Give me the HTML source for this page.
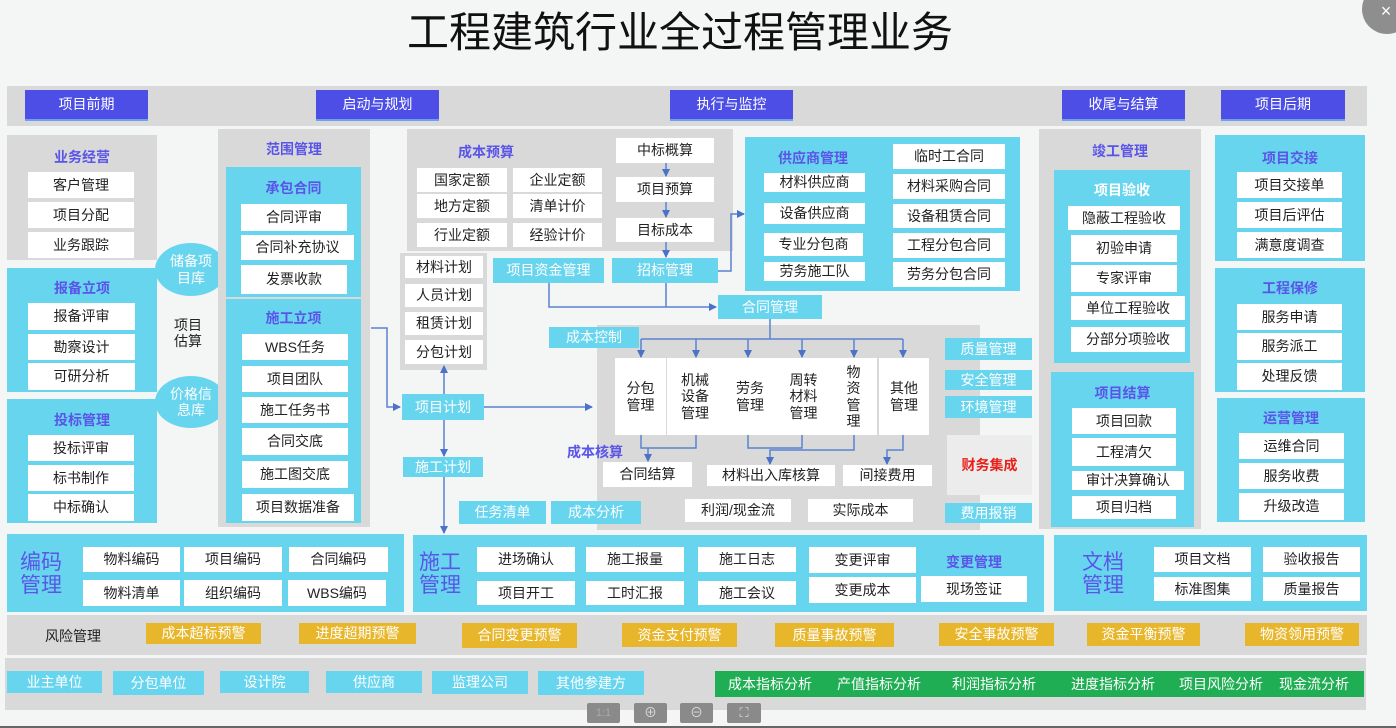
<!DOCTYPE html>
<html><head><meta charset="utf-8">
<style>
*{margin:0;padding:0;box-sizing:border-box}
body{width:1396px;height:728px;overflow:hidden;background:#f4f5f5;font-family:"Liberation Sans","Noto Sans CJK SC",sans-serif;position:relative}
.a{position:absolute;display:flex;align-items:center;justify-content:center;text-align:center;font-size:14px;color:#222;line-height:1.15}
.g{background:#d9d9d9}
.c{background:#68d5ef}
.w{background:#fff}
.t{color:#5a55e8;font-weight:bold;font-size:14px}
.hb{background:#4d4ee6;color:#fff;font-size:14px;border-bottom:2px solid #6fa0f0}
.cl{color:#fff;font-size:14px}
.y{background:#e7b62a;color:#fff;font-size:14px}
.big{color:#5a55e8;font-size:21px;line-height:1.1}
</style></head><body>
<div style="position:absolute;left:1362px;top:-16px;width:50px;height:50px;border-radius:50%;background:#8e8e8e"></div>
<div class="a" style="left:1376px;top:0;width:20px;height:22px;color:#fff;font-size:18px">×</div>
<div class="a" style="left:380px;top:10px;width:600px;height:46px;font-size:42px;color:#111">工程建筑行业全过程管理业务</div>

<div class="a g" style="left:7px;top:86px;width:1360px;height:40px"></div>
<div class="a hb" style="left:25px;top:90px;width:123px;height:31px">项目前期</div>
<div class="a hb" style="left:316px;top:90px;width:123px;height:31px">启动与规划</div>
<div class="a hb" style="left:670px;top:90px;width:123px;height:31px">执行与监控</div>
<div class="a hb" style="left:1062px;top:90px;width:123px;height:31px">收尾与结算</div>
<div class="a hb" style="left:1221px;top:90px;width:124px;height:31px">项目后期</div>

<!-- left column -->
<div class="a g" style="left:7px;top:135px;width:150px;height:125px"></div>
<div class="a t" style="left:7px;top:147px;width:150px;height:20px">业务经营</div>
<div class="a w" style="left:28px;top:172px;width:106px;height:26px">客户管理</div>
<div class="a w" style="left:28px;top:202px;width:106px;height:26px">项目分配</div>
<div class="a w" style="left:28px;top:232px;width:106px;height:26px">业务跟踪</div>

<div class="a c" style="left:7px;top:268px;width:150px;height:124px"></div>
<div class="a t" style="left:7px;top:278px;width:150px;height:20px">报备立项</div>
<div class="a w" style="left:28px;top:303px;width:107px;height:27px">报备评审</div>
<div class="a w" style="left:28px;top:334px;width:107px;height:26px">勘察设计</div>
<div class="a w" style="left:28px;top:363px;width:107px;height:27px">可研分析</div>

<div class="a c" style="left:7px;top:399px;width:150px;height:124px"></div>
<div class="a t" style="left:7px;top:410px;width:150px;height:20px">投标管理</div>
<div class="a w" style="left:28px;top:435px;width:106px;height:26px">投标评审</div>
<div class="a w" style="left:28px;top:465px;width:106px;height:26px">标书制作</div>
<div class="a w" style="left:28px;top:494px;width:106px;height:27px">中标确认</div>

<div class="a c cl" style="left:155px;top:243px;width:72px;height:53px;border-radius:50%">储备项<br>目库</div>
<div class="a c cl" style="left:155px;top:376px;width:72px;height:52px;border-radius:50%">价格信<br>息库</div>
<div class="a" style="left:165px;top:315px;width:46px;height:36px">项目<br>估算</div>

<div class="a g" style="left:218px;top:129px;width:152px;height:398px"></div>
<div class="a t" style="left:218px;top:139px;width:152px;height:20px">范围管理</div>
<div class="a c" style="left:226px;top:167px;width:135px;height:130px"></div>
<div class="a t" style="left:226px;top:178px;width:135px;height:20px">承包合同</div>
<div class="a w" style="left:241px;top:204px;width:106px;height:27px">合同评审</div>
<div class="a w" style="left:241px;top:235px;width:113px;height:25px">合同补充协议</div>
<div class="a w" style="left:241px;top:265px;width:106px;height:29px">发票收款</div>
<div class="a c" style="left:226px;top:299px;width:135px;height:224px"></div>
<div class="a t" style="left:226px;top:308px;width:135px;height:20px">施工立项</div>
<div class="a w" style="left:242px;top:334px;width:106px;height:26px">WBS任务</div>
<div class="a w" style="left:242px;top:366px;width:106px;height:26px">项目团队</div>
<div class="a w" style="left:242px;top:397px;width:106px;height:26px">施工任务书</div>
<div class="a w" style="left:242px;top:428px;width:106px;height:27px">合同交底</div>
<div class="a w" style="left:242px;top:461px;width:106px;height:27px">施工图交底</div>
<div class="a w" style="left:242px;top:494px;width:112px;height:27px">项目数据准备</div>

<!-- middle -->
<div class="a g" style="left:407px;top:129px;width:326px;height:122px"></div>
<div class="a t" style="left:440px;top:142px;width:92px;height:20px">成本预算</div>
<div class="a w" style="left:417px;top:168px;width:90px;height:24px">国家定额</div>
<div class="a w" style="left:513px;top:168px;width:89px;height:24px">企业定额</div>
<div class="a w" style="left:417px;top:194px;width:90px;height:24px">地方定额</div>
<div class="a w" style="left:513px;top:194px;width:89px;height:24px">清单计价</div>
<div class="a w" style="left:417px;top:223px;width:90px;height:24px">行业定额</div>
<div class="a w" style="left:513px;top:223px;width:89px;height:24px">经验计价</div>
<div class="a w" style="left:616px;top:138px;width:98px;height:25px">中标概算</div>
<div class="a w" style="left:616px;top:177px;width:98px;height:25px">项目预算</div>
<div class="a w" style="left:616px;top:218px;width:98px;height:24px">目标成本</div>

<div class="a g" style="left:400px;top:253px;width:87px;height:117px"></div>
<div class="a w" style="left:405px;top:256px;width:78px;height:22px">材料计划</div>
<div class="a w" style="left:405px;top:284px;width:78px;height:23px">人员计划</div>
<div class="a w" style="left:405px;top:312px;width:78px;height:23px">租赁计划</div>
<div class="a w" style="left:405px;top:340px;width:78px;height:24px">分包计划</div>

<div class="a c cl" style="left:493px;top:258px;width:111px;height:25px">项目资金管理</div>
<div class="a c cl" style="left:612px;top:258px;width:106px;height:25px">招标管理</div>

<div class="a c" style="left:745px;top:137px;width:275px;height:154px"></div>
<div class="a t" style="left:770px;top:148px;width:86px;height:20px">供应商管理</div>
<div class="a w" style="left:764px;top:173px;width:101px;height:19px">材料供应商</div>
<div class="a w" style="left:764px;top:203px;width:101px;height:21px">设备供应商</div>
<div class="a w" style="left:764px;top:233px;width:99px;height:23px">专业分包商</div>
<div class="a w" style="left:764px;top:262px;width:101px;height:19px">劳务施工队</div>
<div class="a w" style="left:893px;top:144px;width:112px;height:25px">临时工合同</div>
<div class="a w" style="left:893px;top:174px;width:112px;height:25px">材料采购合同</div>
<div class="a w" style="left:893px;top:204px;width:112px;height:24px">设备租赁合同</div>
<div class="a w" style="left:893px;top:233px;width:112px;height:25px">工程分包合同</div>
<div class="a w" style="left:893px;top:262px;width:112px;height:25px">劳务分包合同</div>

<div class="a c cl" style="left:718px;top:295px;width:104px;height:24px">合同管理</div>

<div class="a g" style="left:597px;top:325px;width:383px;height:205px"></div>
<div class="a c cl" style="left:549px;top:327px;width:90px;height:21px">成本控制</div>
<div class="a w" style="left:615px;top:358px;width:51px;height:77px">分包<br>管理</div>
<div class="a w" style="left:667px;top:358px;width:56px;height:77px">机械<br>设备<br>管理</div>
<div class="a w" style="left:723px;top:358px;width:54px;height:77px">劳务<br>管理</div>
<div class="a w" style="left:777px;top:358px;width:53px;height:77px">周转<br>材料<br>管理</div>
<div class="a w" style="left:830px;top:358px;width:47px;height:77px">物<br>资<br>管<br>理</div>
<div class="a w" style="left:879px;top:358px;width:50px;height:77px">其他<br>管理</div>
<div class="a t" style="left:560px;top:442px;width:70px;height:20px">成本核算</div>
<div class="a w" style="left:603px;top:462px;width:89px;height:25px">合同结算</div>
<div class="a w" style="left:707px;top:465px;width:128px;height:21px">材料出入库核算</div>
<div class="a w" style="left:843px;top:465px;width:89px;height:21px">间接费用</div>
<div class="a w" style="left:685px;top:499px;width:106px;height:23px">利润/现金流</div>
<div class="a w" style="left:808px;top:499px;width:105px;height:23px">实际成本</div>
<div class="a c cl" style="left:459px;top:501px;width:87px;height:23px">任务清单</div>
<div class="a c cl" style="left:551px;top:501px;width:90px;height:23px">成本分析</div>

<div class="a c cl" style="left:402px;top:394px;width:82px;height:26px">项目计划</div>
<div class="a c cl" style="left:403px;top:457px;width:80px;height:20px">施工计划</div>

<div class="a c cl" style="left:945px;top:338px;width:87px;height:22px">质量管理</div>
<div class="a c cl" style="left:945px;top:370px;width:87px;height:20px">安全管理</div>
<div class="a c cl" style="left:945px;top:396px;width:87px;height:22px">环境管理</div>
<div class="a" style="left:947px;top:435px;width:85px;height:60px;background:#ececec;color:#e8201a;font-weight:bold">财务集成</div>
<div class="a c cl" style="left:945px;top:503px;width:87px;height:20px">费用报销</div>

<!-- right -->
<div class="a g" style="left:1039px;top:129px;width:162px;height:400px"></div>
<div class="a t" style="left:1039px;top:141px;width:162px;height:20px">竣工管理</div>
<div class="a c" style="left:1054px;top:170px;width:136px;height:193px"></div>
<div class="a cl" style="left:1054px;top:180px;width:136px;height:20px;font-weight:bold">项目验收</div>
<div class="a w" style="left:1068px;top:206px;width:112px;height:24px">隐蔽工程验收</div>
<div class="a w" style="left:1071px;top:235px;width:106px;height:27px">初验申请</div>
<div class="a w" style="left:1071px;top:265px;width:106px;height:27px">专家评审</div>
<div class="a w" style="left:1071px;top:296px;width:114px;height:24px">单位工程验收</div>
<div class="a w" style="left:1071px;top:327px;width:114px;height:25px">分部分项验收</div>
<div class="a c" style="left:1051px;top:372px;width:143px;height:155px"></div>
<div class="a t" style="left:1051px;top:383px;width:143px;height:20px">项目结算</div>
<div class="a w" style="left:1072px;top:408px;width:104px;height:26px">项目回款</div>
<div class="a w" style="left:1072px;top:438px;width:104px;height:28px">工程清欠</div>
<div class="a w" style="left:1072px;top:471px;width:112px;height:19px">审计决算确认</div>
<div class="a w" style="left:1072px;top:496px;width:104px;height:23px">项目归档</div>

<div class="a c" style="left:1215px;top:135px;width:150px;height:126px"></div>
<div class="a t" style="left:1215px;top:148px;width:150px;height:20px">项目交接</div>
<div class="a w" style="left:1237px;top:172px;width:105px;height:26px">项目交接单</div>
<div class="a w" style="left:1237px;top:202px;width:105px;height:26px">项目后评估</div>
<div class="a w" style="left:1237px;top:232px;width:105px;height:26px">满意度调查</div>
<div class="a c" style="left:1215px;top:268px;width:150px;height:124px"></div>
<div class="a t" style="left:1215px;top:278px;width:150px;height:20px">工程保修</div>
<div class="a w" style="left:1237px;top:304px;width:105px;height:26px">服务申请</div>
<div class="a w" style="left:1237px;top:333px;width:105px;height:27px">服务派工</div>
<div class="a w" style="left:1237px;top:363px;width:105px;height:27px">处理反馈</div>
<div class="a c" style="left:1217px;top:398px;width:148px;height:124px"></div>
<div class="a t" style="left:1217px;top:408px;width:148px;height:20px">运营管理</div>
<div class="a w" style="left:1239px;top:433px;width:105px;height:26px">运维合同</div>
<div class="a w" style="left:1239px;top:463px;width:105px;height:26px">服务收费</div>
<div class="a w" style="left:1239px;top:493px;width:105px;height:27px">升级改造</div>

<!-- bottom rows -->
<div class="a c" style="left:7px;top:534px;width:397px;height:78px"></div>
<div class="a big" style="left:18px;top:549px;width:46px;height:50px">编码<br>管理</div>
<div class="a w" style="left:83px;top:547px;width:97px;height:25px">物料编码</div>
<div class="a w" style="left:184px;top:547px;width:98px;height:25px">项目编码</div>
<div class="a w" style="left:289px;top:547px;width:99px;height:25px">合同编码</div>
<div class="a w" style="left:83px;top:580px;width:97px;height:26px">物料清单</div>
<div class="a w" style="left:184px;top:580px;width:98px;height:26px">组织编码</div>
<div class="a w" style="left:288px;top:580px;width:98px;height:26px">WBS编码</div>

<div class="a c" style="left:413px;top:535px;width:631px;height:77px"></div>
<div class="a big" style="left:417px;top:549px;width:46px;height:50px">施工<br>管理</div>
<div class="a w" style="left:477px;top:547px;width:98px;height:25px">进场确认</div>
<div class="a w" style="left:477px;top:581px;width:98px;height:24px">项目开工</div>
<div class="a w" style="left:586px;top:547px;width:98px;height:25px">施工报量</div>
<div class="a w" style="left:586px;top:581px;width:98px;height:24px">工时汇报</div>
<div class="a w" style="left:698px;top:547px;width:98px;height:25px">施工日志</div>
<div class="a w" style="left:698px;top:581px;width:98px;height:24px">施工会议</div>
<div class="a w" style="left:809px;top:547px;width:107px;height:26px">变更评审</div>
<div class="a w" style="left:809px;top:577px;width:107px;height:26px">变更成本</div>
<div class="a t" style="left:921px;top:552px;width:106px;height:20px">变更管理</div>
<div class="a w" style="left:921px;top:576px;width:106px;height:26px">现场签证</div>

<div class="a c" style="left:1054px;top:535px;width:313px;height:76px"></div>
<div class="a big" style="left:1080px;top:549px;width:46px;height:50px">文档<br>管理</div>
<div class="a w" style="left:1154px;top:547px;width:97px;height:25px">项目文档</div>
<div class="a w" style="left:1154px;top:577px;width:97px;height:24px">标准图集</div>
<div class="a w" style="left:1263px;top:547px;width:97px;height:25px">验收报告</div>
<div class="a w" style="left:1263px;top:577px;width:97px;height:24px">质量报告</div>

<div class="a g" style="left:7px;top:615px;width:1360px;height:40px"></div>
<div class="a" style="left:30px;top:626px;width:86px;height:20px">风险管理</div>
<div class="a y" style="left:146px;top:623px;width:115px;height:21px">成本超标预警</div>
<div class="a y" style="left:299px;top:623px;width:117px;height:21px">进度超期预警</div>
<div class="a y" style="left:462px;top:623px;width:115px;height:25px">合同变更预警</div>
<div class="a y" style="left:622px;top:623px;width:115px;height:24px">资金支付预警</div>
<div class="a y" style="left:775px;top:623px;width:119px;height:24px">质量事故预警</div>
<div class="a y" style="left:939px;top:623px;width:115px;height:23px">安全事故预警</div>
<div class="a y" style="left:1087px;top:623px;width:113px;height:23px">资金平衡预警</div>
<div class="a y" style="left:1245px;top:623px;width:114px;height:23px">物资领用预警</div>

<div class="a g" style="left:5px;top:658px;width:1361px;height:52px"></div>
<div class="a c cl" style="left:7px;top:671px;width:95px;height:22px">业主单位</div>
<div class="a c cl" style="left:113px;top:671px;width:91px;height:24px">分包单位</div>
<div class="a c cl" style="left:220px;top:671px;width:89px;height:22px">设计院</div>
<div class="a c cl" style="left:326px;top:671px;width:96px;height:22px">供应商</div>
<div class="a c cl" style="left:432px;top:671px;width:96px;height:23px">监理公司</div>
<div class="a c cl" style="left:538px;top:671px;width:106px;height:24px">其他参建方</div>
<div class="a" style="left:715px;top:671px;width:649px;height:26px;background:#1fae53"></div>
<div class="a cl" style="left:720px;top:673px;width:100px;height:22px">成本指标分析</div>
<div class="a cl" style="left:829px;top:673px;width:100px;height:22px">产值指标分析</div>
<div class="a cl" style="left:944px;top:673px;width:100px;height:22px">利润指标分析</div>
<div class="a cl" style="left:1063px;top:673px;width:100px;height:22px">进度指标分析</div>
<div class="a cl" style="left:1171px;top:673px;width:100px;height:22px">项目风险分析</div>
<div class="a cl" style="left:1264px;top:673px;width:100px;height:22px">现金流分析</div>

<div class="a" style="left:587px;top:703px;width:33px;height:20px;background:#8a8a8a;color:#aaa;font-size:11px;border-radius:2px">1:1</div>
<div class="a" style="left:634px;top:703px;width:33px;height:20px;background:#8a8a8a;color:#ddd;font-size:13px;border-radius:2px">⊕</div>
<div class="a" style="left:680px;top:703px;width:33px;height:20px;background:#8a8a8a;color:#ddd;font-size:13px;border-radius:2px">⊖</div>
<div class="a" style="left:727px;top:703px;width:34px;height:20px;background:#8a8a8a;color:#ddd;font-size:13px;border-radius:2px">⛶</div>
<div style="position:absolute;left:0;top:726px;width:1396px;height:2px;background:#666"></div>

<svg width="1396" height="728" style="position:absolute;left:0;top:0" fill="none">
<defs><marker id="m" markerWidth="8" markerHeight="8" refX="7" refY="4" orient="auto" markerUnits="userSpaceOnUse"><path d="M0,0 L8,4 L0,8z" fill="#4a72c8"/></marker></defs>
<g stroke="#5a82d0" stroke-width="1.5">
<path d="M666 163 V176" marker-end="url(#m)"/>
<path d="M666 202 V217" marker-end="url(#m)"/>
<path d="M666 242 V257" marker-end="url(#m)"/>
<path d="M718 271 H731 V214 H744" marker-end="url(#m)"/>
<path d="M549 283 V307 H716" marker-end="url(#m)"/>
<path d="M666 283 V307"/>
<path d="M770 319 V339 M641 339 H903"/>
<path d="M641 339 V357" marker-end="url(#m)"/>
<path d="M696 339 V357" marker-end="url(#m)"/>
<path d="M748 339 V357" marker-end="url(#m)"/>
<path d="M802 339 V357" marker-end="url(#m)"/>
<path d="M854 339 V357" marker-end="url(#m)"/>
<path d="M903 339 V357" marker-end="url(#m)"/>
<path d="M641 435 V448 H696 V435 M648 448 V461" marker-end="url(#m)"/>
<path d="M748 435 V448 H802 V435 M854 435 V450 H770 V464" marker-end="url(#m)"/>
<path d="M903 435 V450 H887 V464" marker-end="url(#m)"/>
<path d="M371 328 H387 V407 H400" marker-end="url(#m)"/>
<path d="M484 407 H592" marker-end="url(#m)"/>
<path d="M444 394 V366" marker-end="url(#m)"/>
<path d="M444 420 V456" marker-end="url(#m)"/>
<path d="M444 477 V533" marker-end="url(#m)"/>
</g>
</svg>
</body></html>
